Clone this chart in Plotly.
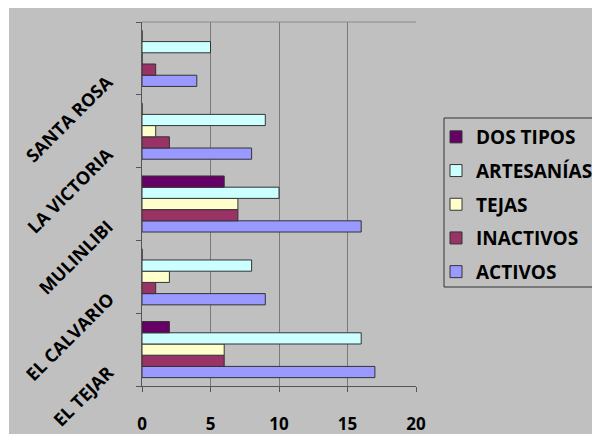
import plotly.graph_objects as go

# Localidades (de abajo hacia arriba en el eje vertical)
localidades = ["EL TEJAR", "EL CALVARIO", "MULINLIBI", "LA VICTORIA", "SANTA ROSA"]

# Número de talleres por localidad y tipo
activos = [17, 9, 16, 8, 4]
inactivos = [6, 1, 7, 2, 1]
tejas = [6, 2, 7, 1, 0]
artesanias = [16, 8, 10, 9, 5]
dos_tipos = [2, 0, 6, 0, 0]

x_ticks = [0, 5, 10, 15, 20]

series = [
    ("ACTIVOS", activos, "#9999ff"),
    ("INACTIVOS", inactivos, "#993366"),
    ("TEJAS", tejas, "#ffffcc"),
    ("ARTESANÍAS", artesanias, "#ccffff"),
    ("DOS TIPOS", dos_tipos, "#660066"),
]

GRAY = "#c0c0c0"
FONT = "Open Sans"

# Área de trazado en píxeles (para convertir a coordenadas "paper")
L, T, W, H = 142, 22, 274, 364

fig = go.Figure()
for i, (name, vals, color) in enumerate(series):
    fig.add_trace(go.Bar(
        y=localidades, x=vals, name=name, orientation="h",
        marker=dict(color=color, line=dict(color="#333333", width=1)),
        legendgroup=name,
        legendrank=len(series) - i,
    ))

fig.update_layout(
    width=592, height=434,
    margin=dict(l=L, r=592 - L - W, t=T, b=434 - T - H, autoexpand=False),
    paper_bgcolor="white",
    plot_bgcolor=GRAY,
    barmode="group",
    bargap=0.23,
    bargroupgap=0,
    font=dict(family=FONT, color="black", size=17, weight="bold"),
    showlegend=True,
    legend=dict(
        x=(436 - L) / W, y=(T + H - 118) / H, xanchor="left", yanchor="top",
        traceorder="grouped", bgcolor="rgba(0,0,0,0)",
        borderwidth=0,
        font=dict(family=FONT, size=19, color="black", weight="bold"),
        tracegroupgap=6,
        itemwidth=30,
    ),
    xaxis=dict(
        range=[0, 20], tickvals=x_ticks,
        showgrid=True, gridcolor="#7a7a7a", gridwidth=1,
        zeroline=False,
        showline=True, linecolor="#555555", linewidth=1,
        ticks="outside", ticklen=5, tickcolor="#555555",
        tickfont=dict(family=FONT, size=17, weight="bold"),
        ticklabelstandoff=18,
        fixedrange=True,
    ),
    yaxis=dict(
        categoryorder="array", categoryarray=localidades,
        range=[-0.5, len(localidades) - 0.5], autorange=False,
        tickson="boundaries",
        showline=True, linecolor="#555555", linewidth=1,
        ticks="outside", ticklen=5, tickcolor="#555555",
        showgrid=False,
        showticklabels=False,
        fixedrange=True,
    ),
)

# Etiquetas de categoría inclinadas
for loc in localidades:
    fig.add_annotation(
        x=(121 - L) / W, xref="paper", y=loc, yref="y",
        text=loc, showarrow=False, textangle=-45,
        xanchor="right", yanchor="top", yshift=-8,
        font=dict(family=FONT, size=18, color="black", weight="bold"),
    )

# Fondo gris del gráfico con margen blanco arriba e izquierda
fig.add_shape(
    type="rect", xref="paper", yref="paper",
    x0=(9 - L) / W, x1=(600 - L) / W,
    y0=(T + H - 440) / H, y1=(T + H - 8) / H,
    fillcolor=GRAY, line=dict(width=0), layer="below",
)
# Marco de la leyenda
fig.add_shape(
    type="rect", xref="paper", yref="paper",
    x0=(444 - L) / W, x1=(610 - L) / W,
    y0=(T + H - 287) / H, y1=(T + H - 118) / H,
    fillcolor="rgba(0,0,0,0)", line=dict(color="#333333", width=1),
)
# Borde superior del área de trazado
fig.add_shape(
    type="line", xref="x", yref="paper",
    x0=0, x1=20, y0=1, y1=1,
    line=dict(color="#8a8a8a", width=1),
)

fig.write_html("out.html")
